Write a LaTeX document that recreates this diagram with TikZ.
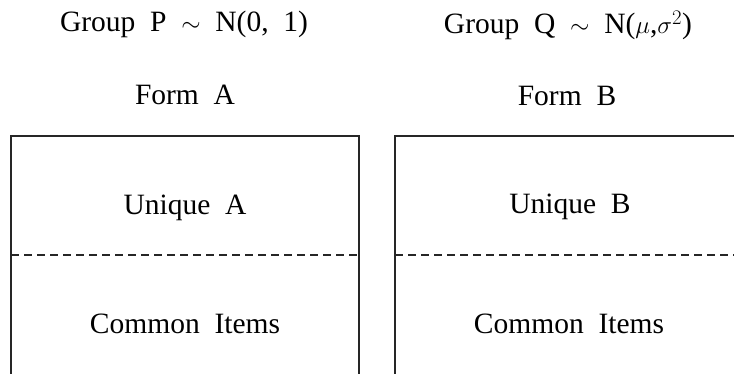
\documentclass[tikz,border=0pt]{standalone}
\usepackage{fontspec}
\setmainfont{Liberation Serif}[WordSpace=2.0]
\usetikzlibrary{positioning}
\definecolor{Frame}{rgb}{0.15,0.15,0.15}
\tikzset{
  lbl/.style={anchor=base, inner sep=0pt, font=\fontsize{29.5}{34}\selectfont},
  formline/.style={draw=Frame, line width=1.2pt},
  splitline/.style={draw=Frame, line width=1.2pt, dash pattern=on 8pt off 5pt}
}
\begin{document}
\begin{tikzpicture}[x=1pt,y=-1pt]

    \useasboundingbox (0,0) rectangle (734,374);

    \coordinate (A) at (11,136);   % top left of form A
    \coordinate (B) at (395,136);  % top left of form B

    % group titles
    \node[lbl] (grpP) at (184,32) {Group P $\sim$ N(0, 1)};
    \node[lbl] (grpQ) at (568,34) {Group Q $\sim$ N($\mu$,$\sigma^2$)};

    % form titles
    \node[lbl] (formA) at (185,105) {Form A};
    \node[lbl] (formB) at (567,106) {Form B};

    % form A box
    \draw[formline]
        (11,374)
        -- (A)
        -- (359,136)
        -- (359,374);
    \draw[splitline] (11,255) -- (359,255);

    % form B box
    \draw[formline]
        (395,374)
        -- (B)
        -- (734,136);
    \draw[splitline] (395,255) -- (734,255);

    % parts
    \node[lbl] (uniqA) at (185,215) {Unique A};
    \node[lbl] (commA) at (185,333) {Common Items};
    \node[lbl] (uniqB) at (570,214) {Unique B};
    \node[lbl] (commB) at (569,333) {Common Items};

\end{tikzpicture}
\end{document}
